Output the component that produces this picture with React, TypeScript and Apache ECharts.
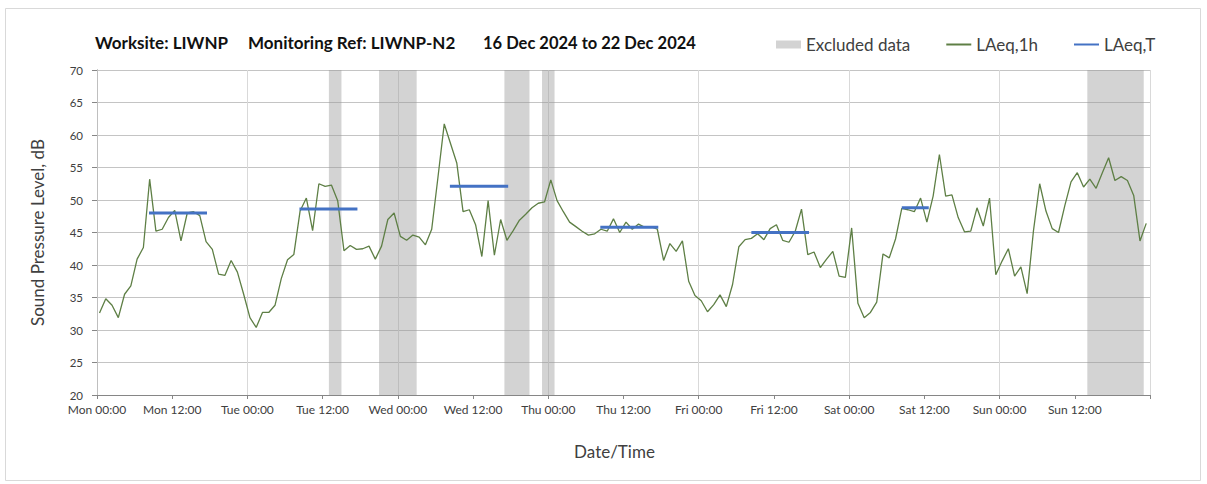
import React, { useEffect, useRef } from 'react';
import * as echarts from 'echarts';

const dayNames = ['Mon', 'Tue', 'Wed', 'Thu', 'Fri', 'Sat', 'Sun'];

// Hourly LAeq,1h values, Mon 00:00 → Sun 23:00
const laeq1h = [
  32.6, 34.8, 33.8, 31.9, 35.5, 36.8, 40.9, 42.7, 53.2, 45.2, 45.5, 47.3,
  48.4, 43.7, 48.0, 48.2, 47.6, 43.6, 42.4, 38.6, 38.4, 40.7, 38.9, 35.5,
  31.9, 30.4, 32.7, 32.7, 33.8, 37.9, 40.8, 41.6, 48.3, 50.3, 45.3, 52.5,
  52.1, 52.3, 49.9, 42.2, 43.0, 42.4, 42.5, 42.9, 40.9, 42.9, 47.0, 48.0,
  44.4, 43.8, 44.6, 44.3, 43.1, 45.5, 53.5, 61.7, 58.7, 55.7, 48.2, 48.5,
  46.2, 41.3, 49.9, 41.5, 47.0, 43.8, 45.3, 46.9, 47.8, 48.8, 49.5, 49.7,
  53.1, 49.9, 48.2, 46.6, 45.9, 45.2, 44.6, 44.8, 45.5, 45.2, 47.1, 45.0,
  46.6, 45.5, 46.3, 45.8, 45.9, 45.5, 40.7, 43.3, 42.1, 43.7, 37.5, 35.3,
  34.5, 32.8, 33.9, 35.4, 33.6, 37.0, 42.8, 43.9, 44.1, 44.8, 43.9, 45.6,
  46.2, 43.8, 43.5, 45.2, 48.6, 41.6, 42.0, 39.6, 40.9, 42.1, 38.3, 38.1,
  45.7, 34.1, 31.9, 32.7, 34.3, 41.7, 41.1, 44.0, 48.7, 48.5, 48.2, 50.3,
  46.6, 50.6, 57.0, 50.6, 50.8, 47.3, 45.1, 45.2, 48.8, 46.0, 50.3, 38.5,
  40.6, 42.5, 38.3, 39.7, 35.6, 45.2, 52.5, 48.3, 45.6, 45.0, 49.1, 52.8,
  54.2, 52.0, 53.2, 51.8, 54.2, 56.5, 53.0, 53.6, 53.0, 50.7, 43.7, 46.4,
];
const firstHourTime = 0.4; // time (hours since Mon 00:00) of the first hourly value

// LAeq,T periods (hours since Mon 00:00)
const laeqTStart = [8.3, 32.3, 56.3, 80.3, 104.4, 128.4];
const laeqTEnd = [17.55, 41.55, 65.6, 89.55, 113.6, 132.7];
const laeqTValue = [48.0, 48.6, 52.1, 45.8, 45.0, 48.8];

// Excluded data periods (hours since Mon 00:00)
const excludedStart = [37, 45, 65, 71, 158];
const excludedEnd = [39, 51, 69, 73, 167];

const yTicks = { min: 20, max: 70, step: 5 };
const xTicks = { min: 0, max: 168, step: 12 };

const FONT = 'Lato, "Open Sans", sans-serif';
const TXT = '#404040';

export default function App() {
  const ref = useRef<HTMLDivElement>(null);

  useEffect(() => {
    if (!ref.current) return;
    const chart = echarts.init(ref.current, undefined, { renderer: 'svg' });

    const greenData = laeq1h.map((v, i) => [i + firstHourTime, v]);
    const tSeries = laeqTValue.map((v, k) => ({
      name: 'LAeq,T',
      type: 'line',
      data: [
        [laeqTStart[k], v],
        [laeqTEnd[k], v],
      ],
      symbol: 'none',
      lineStyle: { color: '#4472C4', width: 3 },
      itemStyle: { color: '#4472C4' },
      z: 4,
    }));

    const titleStyle = { fontSize: 17, fontWeight: 'bold', color: '#111', fontFamily: FONT };

    const option: any = {
      animation: false,
      textStyle: { fontFamily: FONT },
      title: [
        { text: 'Worksite: LIWNP', left: 95, top: 34, padding: 0, textStyle: titleStyle },
        { text: 'Monitoring Ref: LIWNP-N2', left: 248, top: 34, padding: 0, textStyle: titleStyle },
        { text: '16 Dec 2024 to 22 Dec 2024', left: 483, top: 34, padding: 0, textStyle: { ...titleStyle, fontSize: 16.5 } },
      ],
      legend: {
        left: 776,
        top: 36,
        padding: 0,
        itemWidth: 25,
        itemHeight: 8,
        itemGap: 35,
        textStyle: { fontSize: 17, color: TXT, fontFamily: FONT },
        data: [
          { name: 'Excluded data', icon: 'rect' },
          { name: 'LAeq,1h', itemStyle: { opacity: 0 } },
          { name: 'LAeq,T', itemStyle: { opacity: 0 } },
        ],
      },
      graphic: [
        {
          type: 'rect',
          shape: { x: 5.5, y: 8.5, width: 1195, height: 472 },
          style: { fill: 'none', stroke: '#d9d9d9', lineWidth: 1 },
          silent: true,
        },
      ],
      grid: { left: 97, right: 57, top: 70, bottom: 89 },
      xAxis: [
        {
          type: 'value',
          min: xTicks.min,
          max: xTicks.max,
          interval: xTicks.step,
          axisLine: { show: true, lineStyle: { color: '#868686' } },
          axisTick: { show: true, length: 4, lineStyle: { color: '#868686' } },
          splitLine: { show: false },
          axisLabel: {
            fontSize: 12,
            color: TXT,
            margin: 8,
            fontFamily: FONT,
            formatter: (v: number) => {
              if (v >= 168) return '';
              const d = Math.floor(v / 24);
              return dayNames[d] + (v % 24 === 0 ? ' 00:00' : ' 12:00');
            },
          },
          name: 'Date/Time',
          nameLocation: 'middle',
          nameGap: 48,
          nameTextStyle: { fontSize: 17, color: TXT, fontFamily: FONT, padding: [0, 18, 0, 0] },
        },
        {
          type: 'value',
          min: xTicks.min,
          max: xTicks.max,
          interval: 24,
          position: 'bottom',
          axisLine: { show: false },
          axisTick: { show: false },
          axisLabel: { show: false },
          splitLine: { show: true, lineStyle: { color: '#d9d9d9', width: 1 } },
        },
      ],
      yAxis: [
        {
          type: 'value',
          min: yTicks.min,
          max: yTicks.max,
          interval: yTicks.step,
          axisLine: { show: true, lineStyle: { color: '#868686' } },
          axisTick: { show: true, length: 5, lineStyle: { color: '#868686' } },
          splitLine: { show: true, lineStyle: { color: '#c4c4c4' } },
          axisLabel: { fontSize: 11.5, color: TXT, margin: 14, fontFamily: FONT },
          name: 'Sound Pressure Level, dB',
          nameLocation: 'middle',
          nameGap: 51,
          nameTextStyle: { fontSize: 17, color: TXT, fontFamily: FONT },
        },
        {
          type: 'value',
          min: yTicks.min,
          max: yTicks.max,
          interval: yTicks.step,
          position: 'right',
          axisLine: { show: true, lineStyle: { color: '#bfbfbf' } },
          axisTick: { show: false },
          axisLabel: { show: false },
          splitLine: { show: false },
        },
      ],
      series: [
        {
          name: 'Excluded data',
          type: 'bar',
          data: [],
          itemStyle: { color: '#d3d3d3' },
        },
        {
          name: 'LAeq,1h',
          type: 'line',
          data: greenData,
          symbol: 'none',
          lineStyle: { color: '#5E7F45', width: 1.3 },
          itemStyle: { color: '#5E7F45' },
          z: 3,
          markArea: {
            silent: true,
            itemStyle: { color: 'rgba(150,150,150,0.42)' },
            data: excludedStart.map((s, k) => [{ xAxis: s }, { xAxis: excludedEnd[k] }]),
          },
        },
        ...tSeries,
      ],
    };

    chart.setOption(option);
    return () => chart.dispose();
  }, []);

  return (
    <div
      ref={ref}
      style={{ position: 'fixed', left: 0, top: 0, width: 1207, height: 484, background: '#fff' }}
    />
  );
}
